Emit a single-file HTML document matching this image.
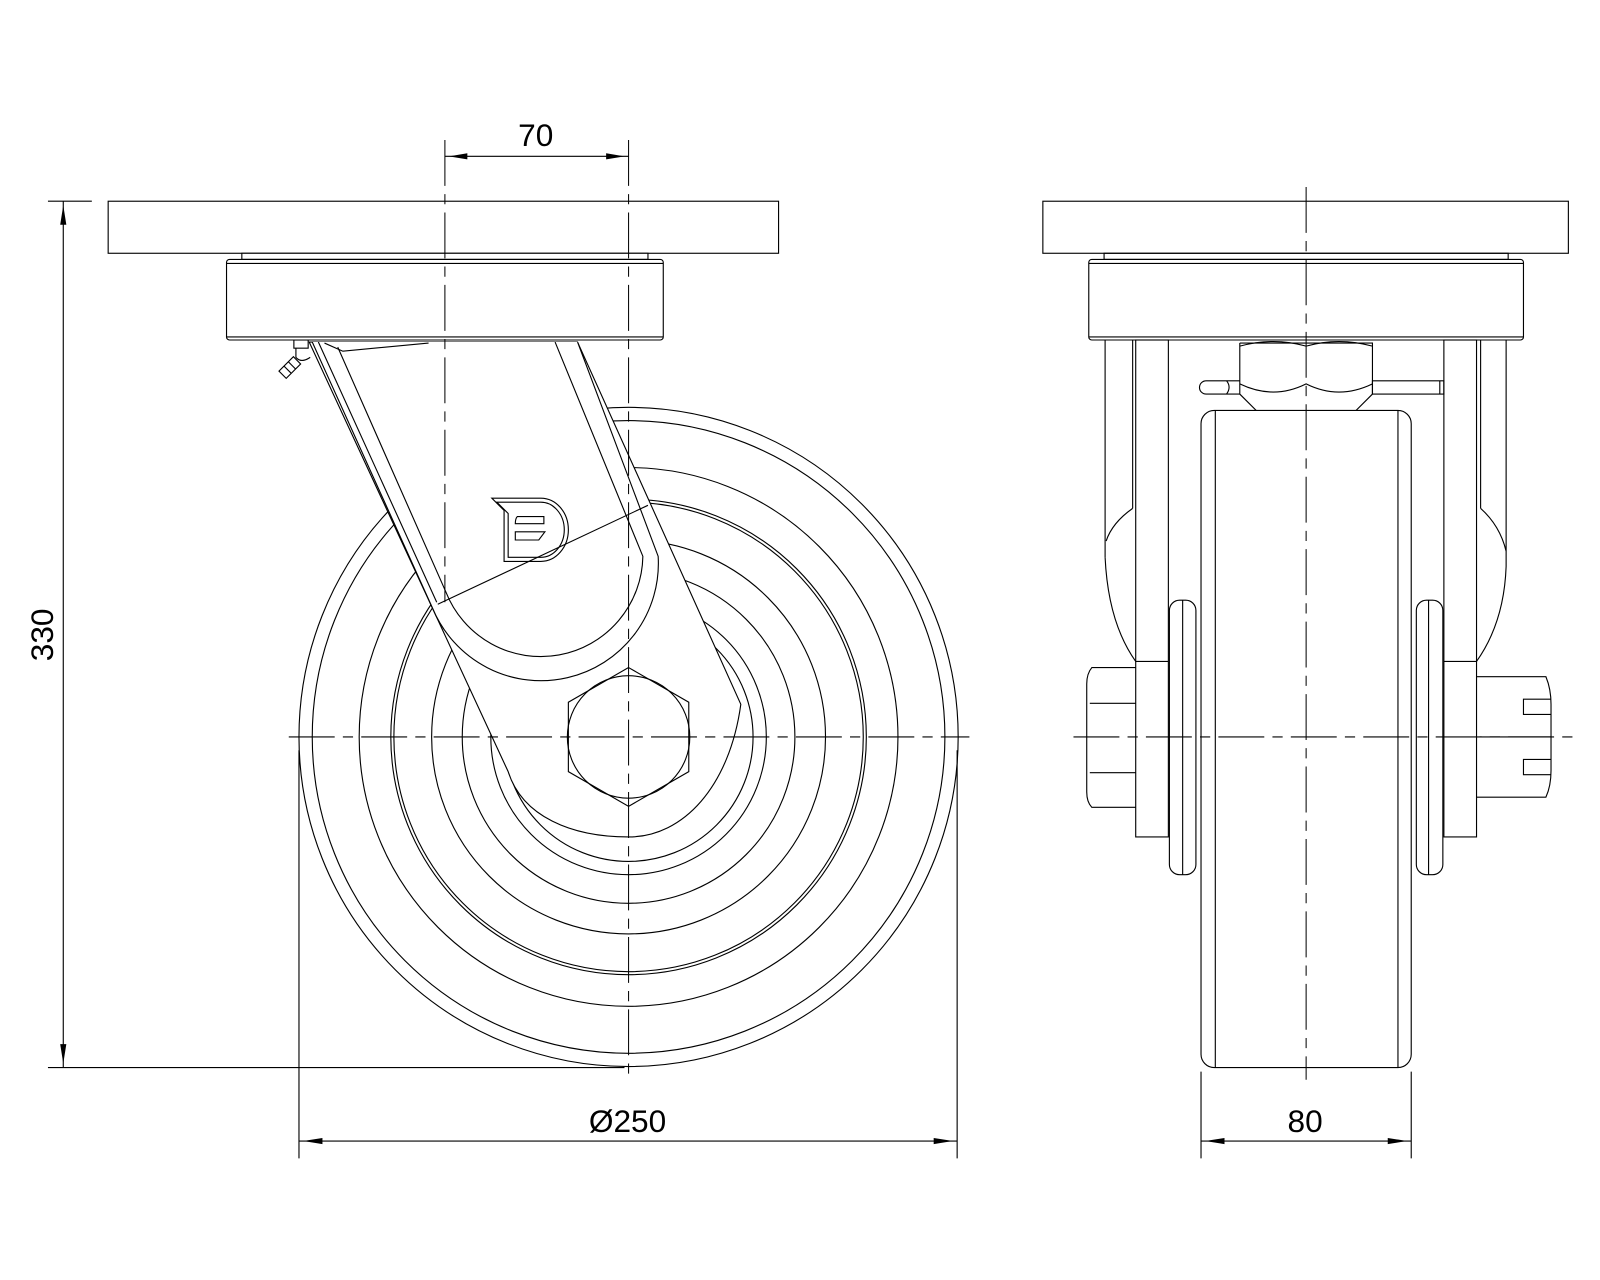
<!DOCTYPE html>
<html><head><meta charset="utf-8"><style>
html,body{margin:0;padding:0;background:#fff;}
svg{display:block;}
text{font-family:"Liberation Sans",sans-serif;fill:#000;}
</style></head><body>
<svg width="1600" height="1280" viewBox="0 0 1568 1254" xmlns="http://www.w3.org/2000/svg">
<g fill="none" stroke="#000" stroke-width="1.1">
<!-- LEFT VIEW -->
<g>
<circle cx="616" cy="722" r="323"/>
<circle cx="616" cy="722" r="310"/>
<circle cx="616" cy="722" r="264"/>
<circle cx="616" cy="722" r="233"/>
<circle cx="616" cy="722" r="230"/>
<circle cx="616" cy="722" r="193"/>
<circle cx="616" cy="722" r="163"/>
<circle cx="616" cy="722" r="135"/>
<circle cx="616" cy="722" r="122"/>
</g>
<!-- fork leg plate -->
<path fill="#fff" d="M303,335 L498,756 C512,800 560,820 616,820 C670,820 715,770 726,690 L566,335 Z"/>
<!-- U arm -->
<path fill="#fff" d="M306,335 L424,596 A115,115 0 0 0 645,545 L566,335"/>
<path d="M312,335 L428,590"/>
<path d="M331,340 L437,580 A100,100 0 0 0 630,545 L544,335"/>
<path d="M318,336 L336,344 L420,336"/>
<line x1="429" y1="592" x2="635" y2="495"/>
<!-- D logo -->
<path d="M482,488 L530,488 A27,31 0 0 1 530,550 L494,550 L494,500 Z"/>
<path d="M487,492 L530,492 A23,27 0 0 1 530,546 L498,546 L498,503 Z"/>
<path d="M507,506 L533,506 L533,513 L505,513 Q505,508 507,506 Z"/>
<path d="M505,521 L534,521 L528,529 L505,529 Z"/>
<!-- grease nipple -->
<rect x="288" y="333" width="14" height="8"/>
<path d="M290,341 L290,350 Q295,356 304,350"/>
<g transform="translate(284,360) rotate(-45)"><rect x="-10" y="-5" width="20" height="10"/><line x1="-3" y1="-5" x2="-3" y2="5"/><line x1="3" y1="-5" x2="3" y2="5"/></g>
<!-- hex nut -->
<polygon fill="#fff" points="616,654 675,688 675,756 616,790 557,756 557,688"/>
<circle cx="616" cy="722" r="60"/>
<!-- plate & mount -->
<rect x="106" y="197" width="657" height="51" fill="#fff"/>
<rect x="237" y="248" width="398" height="6" fill="#fff"/>
<rect x="222" y="254" width="428" height="79" rx="3" fill="#fff"/>
<line x1="222" y1="258" x2="650" y2="258"/>
<line x1="222" y1="330" x2="650" y2="330"/>

<!-- RIGHT VIEW -->
<rect x="1022" y="197" width="515" height="51"/>
<rect x="1082" y="248" width="396" height="6"/>
<rect x="1067" y="254" width="426" height="79" rx="3"/>
<line x1="1067" y1="258" x2="1493" y2="258"/>
<line x1="1067" y1="330" x2="1493" y2="330"/>
<line x1="1083" y1="333" x2="1083" y2="546"/>
<line x1="1110" y1="333" x2="1110" y2="498"/>
<path d="M1110,498 Q1090,512 1084,530"/>
<path d="M1083,546 Q1086,610 1113,648"/>
<rect x="1113" y="333" width="32" height="487"/>
<line x1="1113" y1="648" x2="1145" y2="648"/>
<line x1="1476" y1="333" x2="1476" y2="555"/>
<line x1="1451" y1="333" x2="1451" y2="498"/>
<path d="M1451,498 Q1470,515 1476,540"/>
<path d="M1476,555 Q1474,610 1447,648"/>
<rect x="1415" y="333" width="32" height="487"/>
<line x1="1415" y1="648" x2="1447" y2="648"/>
<path d="M1215,336 L1345,336 L1345,386 L1329,402 M1215,336 L1215,386 L1231,402"/>
<path d="M1215,339 Q1248,330 1280,339 Q1312,330 1345,339"/>
<path d="M1215,376 Q1248,392 1280,376 Q1312,392 1345,376"/>
<path d="M1215,373 L1182,373 A6.5,6.5 0 0 0 1182,386 L1215,386 M1202,373 Q1207,379 1202,386"/>
<rect x="1345" y="373" width="70" height="13"/>
<line x1="1411" y1="373" x2="1411" y2="386"/>
<rect x="1177" y="402" width="206" height="644" rx="13"/>
<line x1="1191" y1="402" x2="1191" y2="1046"/>
<line x1="1370" y1="402" x2="1370" y2="1046"/>
<rect x="1146" y="588" width="26" height="269" rx="10"/>
<line x1="1159" y1="588" x2="1159" y2="857"/>
<rect x="1388" y="588" width="26" height="269" rx="10"/>
<line x1="1400" y1="588" x2="1400" y2="857"/>
<path d="M1113,654 L1070,654 Q1065,660 1065,670 L1065,776 Q1065,786 1070,791 L1113,791"/>
<line x1="1068" y1="689" x2="1113" y2="689"/>
<line x1="1068" y1="757" x2="1113" y2="757"/>
<path d="M1447,663 L1515,663 Q1520,675 1520,690 L1520,755 Q1520,770 1515,781 L1447,781"/>
<line x1="1450" y1="722" x2="1520" y2="722"/>
<path d="M1520,685 L1493,685 L1493,700 L1520,700 M1520,744 L1493,744 L1493,759 L1520,759"/>
</g>

<g stroke="#000" stroke-width="1" fill="none" stroke-dasharray="45 8 10 8">
<line x1="436" y1="137" x2="436" y2="590"/>
<line x1="616" y1="137" x2="616" y2="1058"/>
<line x1="283" y1="722" x2="950" y2="722"/>
<line x1="1280" y1="183" x2="1280" y2="1058"/>
<line x1="1052" y1="722" x2="1545" y2="722"/>
</g>

<g stroke="#000" stroke-width="1.1" fill="none">
<line x1="436" y1="153" x2="616" y2="153"/>
<line x1="47" y1="197" x2="90" y2="197"/>
<line x1="47" y1="1046" x2="612" y2="1046"/>
<line x1="62" y1="197" x2="62" y2="1046"/>
<line x1="293" y1="735" x2="293" y2="1135"/>
<line x1="938" y1="735" x2="938" y2="1135"/>
<line x1="293" y1="1118" x2="938" y2="1118"/>
<line x1="1177" y1="1050" x2="1177" y2="1135"/>
<line x1="1383" y1="1050" x2="1383" y2="1135"/>
<line x1="1177" y1="1118" x2="1383" y2="1118"/>
</g>
<g fill="#000">
<polygon points="440,153 458,150 458,156"/>
<polygon points="612,153 594,150 594,156"/>
<polygon points="62,201 59,220 65,220"/>
<polygon points="62,1042 59,1023 65,1023"/>
<polygon points="297,1118 316,1115 316,1121"/>
<polygon points="934,1118 915,1115 915,1121"/>
<polygon points="1181,1118 1200,1115 1200,1121"/>
<polygon points="1379,1118 1360,1115 1360,1121"/>
</g>
<g font-size="31">
<text x="525" y="143" text-anchor="middle">70</text>
<text x="615" y="1109" text-anchor="middle">Ø250</text>
<text x="1279" y="1109" text-anchor="middle">80</text>
<text transform="translate(52,622) rotate(-90)" text-anchor="middle">330</text>
</g>
</svg>
</body></html>
